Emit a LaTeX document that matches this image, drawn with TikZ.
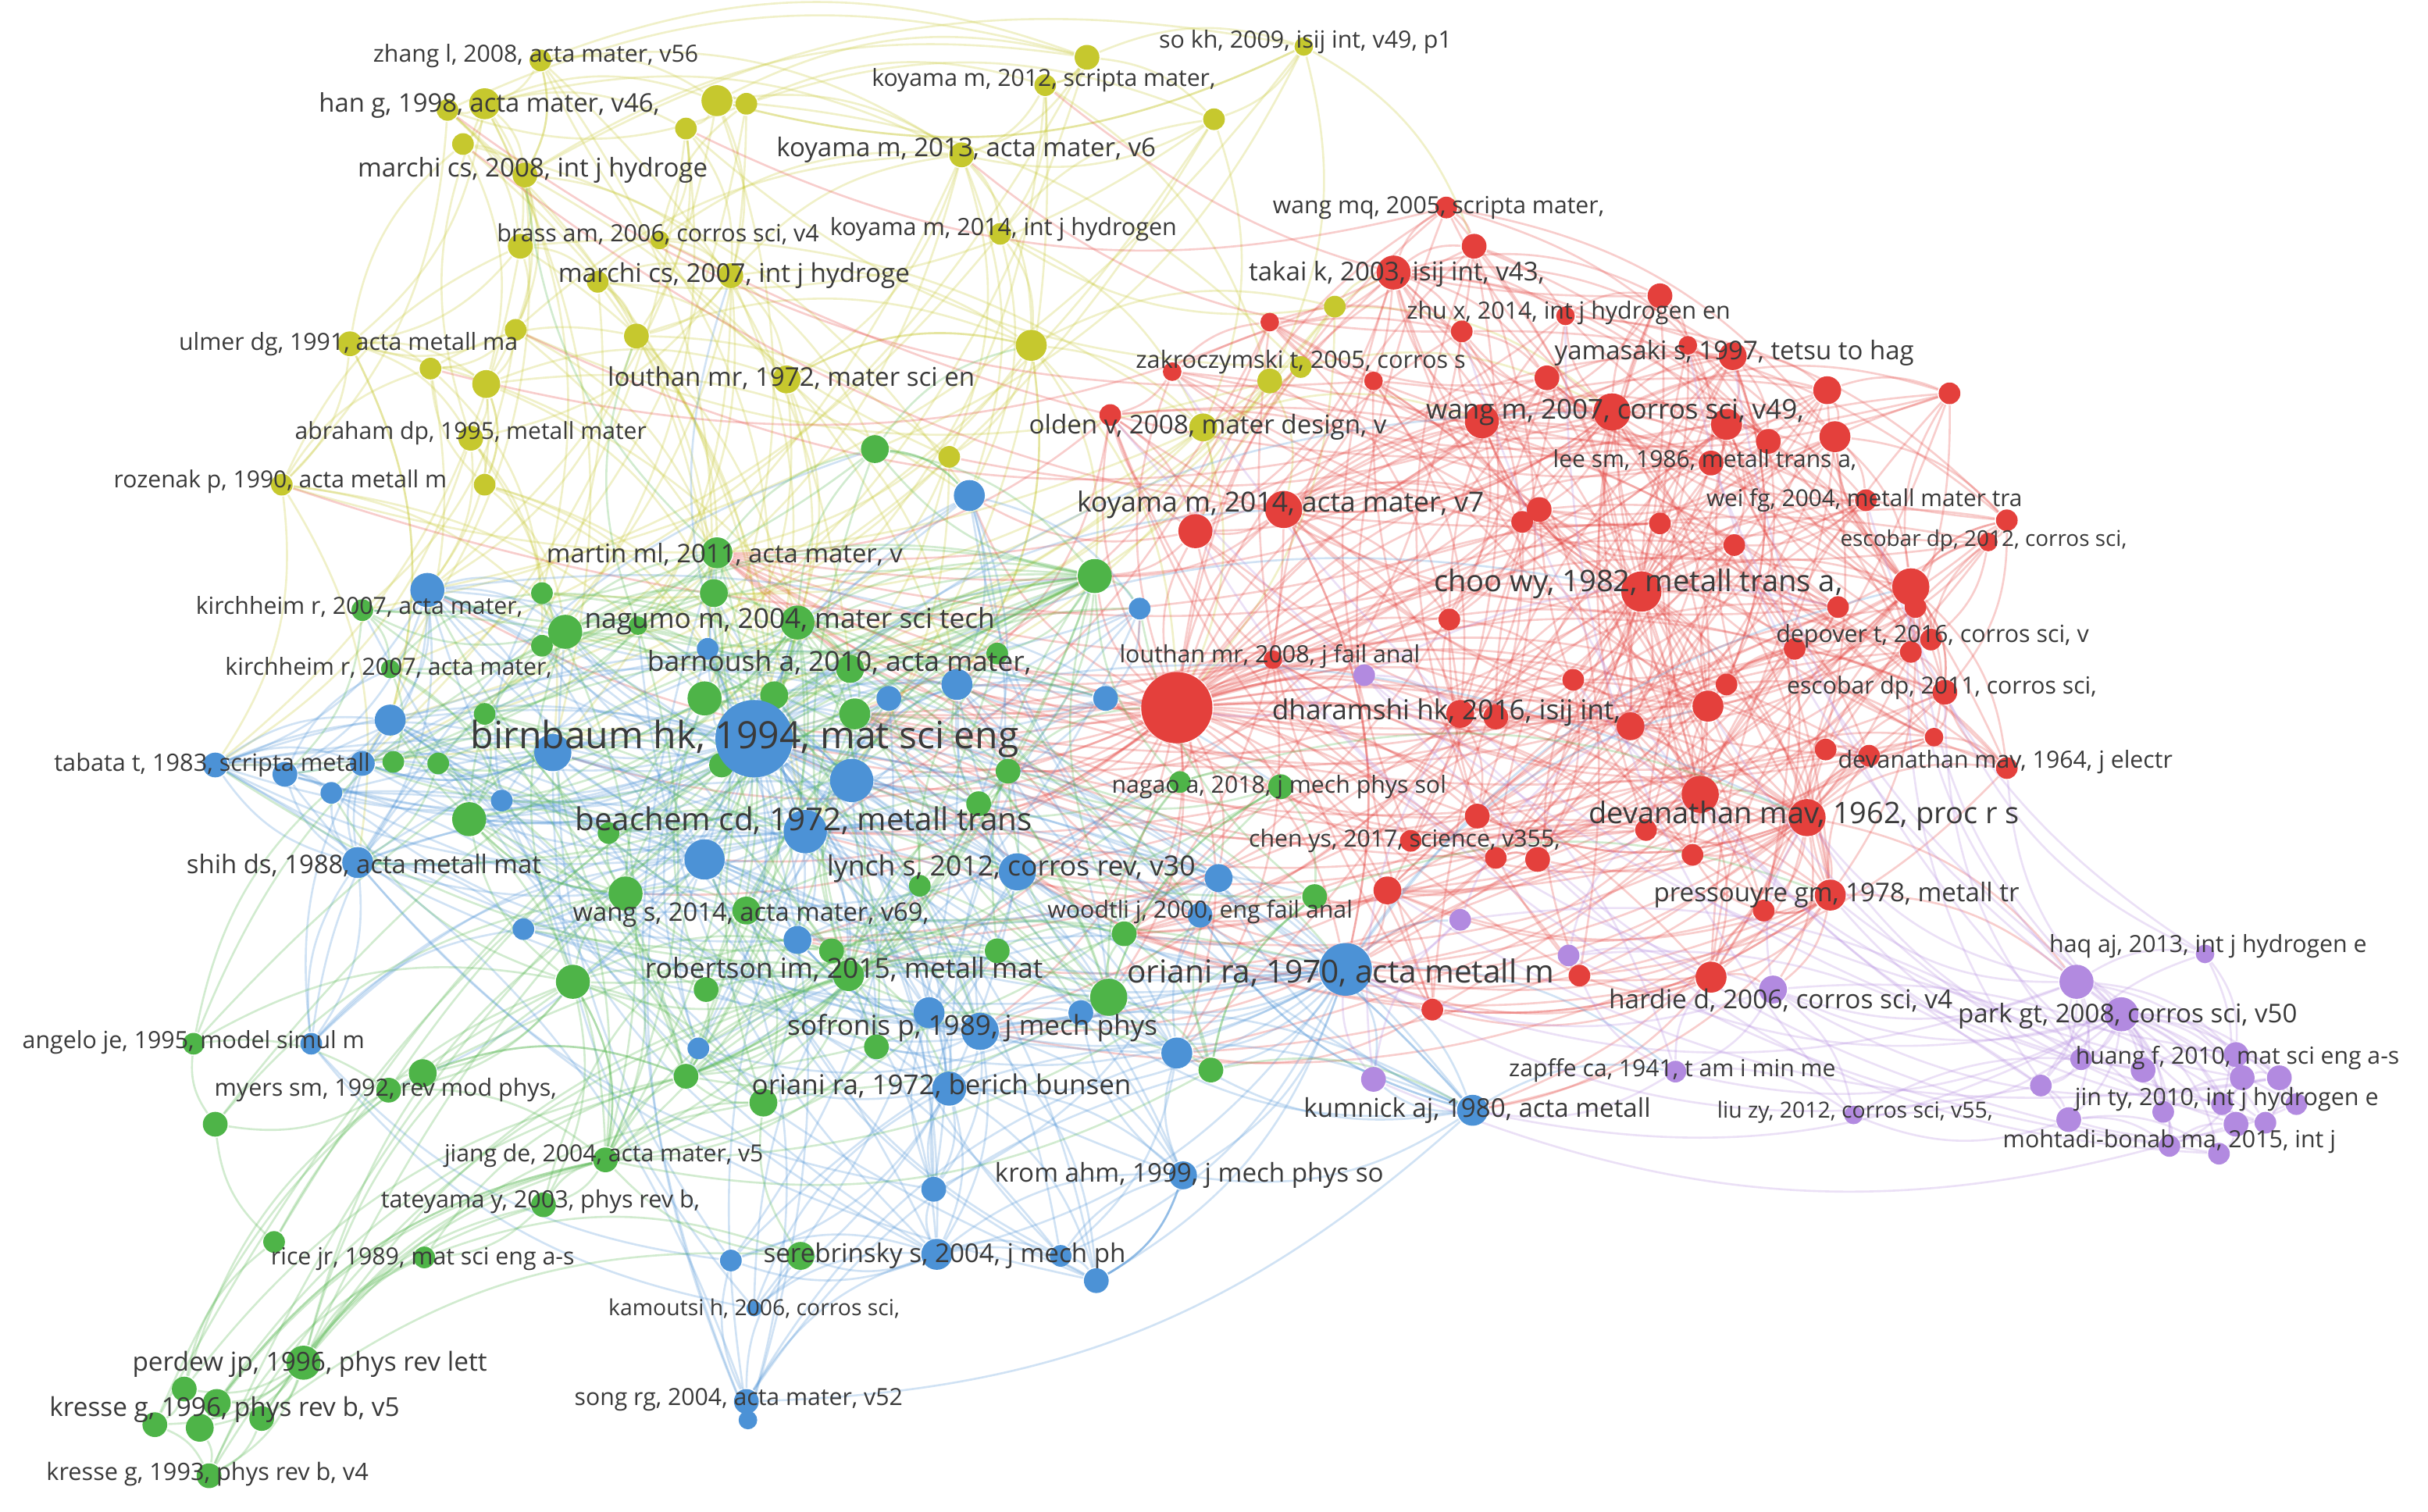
\documentclass[tikz,border=0pt]{standalone}
\usepackage{fontspec}
\setmainfont{Open Sans}
\usepackage{graphicx}
\definecolor{Rc}{RGB}{228,64,60}
\definecolor{Gc}{RGB}{78,180,72}
\definecolor{Bc}{RGB}{76,146,214}
\definecolor{Yc}{RGB}{198,200,46}
\definecolor{Pc}{RGB}{178,138,224}
\definecolor{Tc}{RGB}{58,58,58}
\pgfdeclarelayer{bg}
\pgfsetlayers{bg,main}
\setlength{\unitlength}{0.25pt}
\newcommand\lw[2]{\resizebox{#1\unitlength}{!}{#2}}
\begin{document}
\begin{tikzpicture}[x=0.25pt,y=-0.25pt,
  dot/.style={circle,inner sep=0pt,draw=none},
  lab/.style={inner sep=0pt,text=Tc,font=\fontsize{4}{4}\selectfont},
  edge/.style={draw opacity=0.26,line width=0.33pt,bend left=20},
  eR/.style={edge,draw=Rc},
  eG/.style={edge,draw=Gc},
  eB/.style={edge,draw=Bc},
  eY/.style={edge,draw=Yc},
  eP/.style={edge,draw=Pc}]
\useasboundingbox (0,0) rectangle (1568,976);
% ---------------- nodes ----------------
\foreach \nn/\xx/\yy/\rr in {Y1/349/39/7, Y2/313/67/10, Y3/289/71/7, Y4/463/65/10, Y5/482/67/7, Y6/443/83/7, Y7/299/93/7, Y8/339/113/8, Y9/336/159/8, Y10/426/155/6, Y11/386/182/7, Y12/472/178/8, Y13/333/213/7, Y14/411/217/8, Y15/226/222/8, Y16/278/238/7, Y17/314/248/9, Y18/508/245/9, Y19/304/283/8, Y20/182/313/7, Y21/313/313/7, Y22/702/37/8, Y23/675/55/7, Y24/842/30/6, Y25/784/77/7, Y26/621/100/8, Y27/646/151/7, Y28/666/223/10, Y29/840/237/7, Y30/820/246/8, Y31/777/276/9, Y32/862/198/7, Y33/613/295/7}
  \node[dot,fill=Yc,minimum size=\rr*0.5pt] (\nn) at (\xx,\yy) {};
\foreach \nn/\xx/\yy/\rr in {R0/760/457/23, R1/934/134/7, R2/952/159/8, R3/900/176/11, R4/820/208/6, R5/944/214/7, R6/1011/204/6, R7/887/246/6, R8/999/244/8, R9/957/272/11, R10/1041/266/12, R11/1072/191/8, R12/1119/230/9, R13/1090/223/6, R14/1180/252/9, R15/1259/254/7, R16/1115/274/10, R17/1142/285/8, R18/1185/282/10, R19/1105/299/8, R20/1205/323/7, R21/1072/338/7, R22/1296/336/7, R23/1284/350/6, R24/1120/352/7, R25/1060/382/13, R26/1234/379/12, R27/1237/392/7, R28/1187/392/7, R29/1159/419/7, R30/1234/421/7, R31/1247/413/7, R32/1115/442/7, R33/1103/456/10, R34/1256/447/8, R35/1053/469/9, R36/1249/476/6, R37/1179/484/7, R38/1207/488/7, R39/1296/496/7, R40/1098/513/12, R41/1167/528/12, R42/1063/536/7, R43/1093/552/7, R44/1182/578/10, R45/1139/588/7, R46/1105/631/10, R47/757/240/6, R48/717/268/7, R49/772/343/11, R50/829/329/12, R51/994/329/8, R52/983/337/7, R53/936/400/7, R54/822/426/6, R55/1016/439/7, R56/943/461/9, R57/966/463/8, R58/954/527/8, R59/911/543/7, R60/966/554/7, R61/993/555/8, R62/896/575/9, R63/1020/630/7, R64/925/652/7}
  \node[dot,fill=Rc,minimum size=\rr*0.5pt] (\nn) at (\xx,\yy) {};
\foreach \nn/\xx/\yy/\rr in {G1/463/357/10, G2/461/383/9, G3/365/408/11, G4/515/402/11, G5/412/404/6, G6/549/432/9, G7/644/422/7, G8/707/372/11, G9/455/451/11, G10/500/449/9, G11/552/461/10, G12/466/494/8, G13/651/498/8, G14/632/519/8, G15/393/538/7, G16/594/572/7, G17/404/577/11, G18/482/588/9, G19/537/614/8, G20/644/614/8, G21/726/603/8, G22/548/630/10, G23/370/634/11, G24/456/639/8, G25/716/644/12, G26/566/676/8, G27/443/695/8, G28/493/712/9, G29/782/691/8, G30/565/290/9, G31/234/394/7, G32/350/383/7, G33/350/417/7, G34/252/432/6, G35/313/461/7, G36/254/492/7, G37/283/493/7, G38/303/529/11, G39/762/505/7, G40/827/508/8, G41/849/579/8, G42/125/674/7, G43/273/693/9, G44/251/704/8, G45/139/726/8, G46/391/749/8, G47/351/778/8, G48/177/802/7, G49/274/812/7, G50/517/811/9, G51/196/880/11, G52/119/897/8, G53/140/906/9, G54/100/920/8, G55/129/922/9, G56/169/916/8, G57/135/953/8}
  \node[dot,fill=Gc,minimum size=\rr*0.5pt] (\nn) at (\xx,\yy) {};
\foreach \nn/\xx/\yy/\rr in {B1/626/320/10, B2/736/393/7, B3/276/381/11, B4/457/419/7, B5/618/442/10, B6/574/451/8, B7/714/451/8, B8/252/465/10, B9/357/486/12, B10/550/504/14, B11/139/494/8, B12/184/500/8, B13/234/493/8, B14/214/512/7, B15/324/517/7, B16/520/537/14, B17/455/555/13, B18/231/557/10, B19/657/563/12, B20/787/567/9, B21/338/600/7, B22/515/607/9, B23/775/591/8, B24/869/626/17, B25/600/654/10, B26/633/666/12, B27/698/654/8, B28/760/680/10, B29/451/677/7, B30/613/703/11, B31/201/674/7, B32/951/717/10, B33/603/768/8, B34/764/759/9, B35/605/810/10, B36/685/811/7, B37/708/827/8, B38/472/814/7, B39/487/845/5, B40/482/905/8, B41/483/917/6, B0/487/477/25}
  \node[dot,fill=Bc,minimum size=\rr*0.5pt] (\nn) at (\xx,\yy) {};
\foreach \nn/\xx/\yy/\rr in {P1/881/436/7, P2/943/594/7, P3/1013/617/7, P4/1145/639/9, P5/887/697/8, P6/1082/692/7, P7/1197/720/6, P8/1341/634/11, P9/1424/616/6, P10/1370/655/11, P11/1344/684/7, P12/1384/691/8, P13/1444/681/8, P14/1448/696/8, P15/1472/696/8, P16/1318/701/7, P17/1397/718/7, P18/1483/713/7, P19/1336/723/8, P20/1444/726/8, P21/1463/725/7, P22/1435/713/7, P23/1401/740/7, P24/1433/745/7}
  \node[dot,fill=Pc,minimum size=\rr*0.5pt] (\nn) at (\xx,\yy) {};
% ---------------- edges ----------------
\begin{pgfonlayer}{bg}
\fill[white] (0,0) rectangle (1568,976);
\foreach \a/\b in {Y1/Y2, Y1/Y4, Y1/Y8, Y1/Y22, Y1/Y26, Y2/Y3, Y2/Y8, Y2/Y9, Y2/Y4, Y2/Y6, Y2/Y7, Y3/Y9, Y4/Y5, Y4/Y6, Y4/Y12, Y4/Y22, Y4/Y26, Y5/Y23, Y5/Y25, Y6/Y12, Y6/Y14, Y7/Y8, Y8/Y9, Y8/Y12, Y8/Y13, Y8/Y17, Y9/Y13, Y9/Y11, Y10/Y12, Y10/Y26, Y11/Y14, Y11/Y18, Y12/Y14, Y12/Y18, Y12/Y26, Y12/Y28, Y13/Y15, Y13/Y16, Y13/Y17, Y14/Y28, Y15/Y16, Y15/Y17, Y15/Y20, Y15/Y19, Y16/Y17, Y17/Y19, Y17/Y21, Y17/Y18, Y17/B3, Y18/Y28, Y18/B0, Y19/B3, Y19/Y21, Y20/B11, Y20/Y16, Y21/B0, Y22/Y23, Y22/Y24, Y22/Y25, Y22/Y26, Y23/Y26, Y23/Y27, Y24/Y25, Y24/Y30, Y24/Y4, Y25/Y26, Y25/Y31, Y26/Y27, Y26/Y28, Y26/Y33, Y27/Y28, Y27/Y31, Y28/Y31, Y28/R0, Y28/Y33, Y29/Y30, Y29/R3, Y30/Y31, Y31/R0, Y31/R9, Y32/R3, Y32/R0, Y33/B0, Y33/G4, Y14/B0, Y18/G4, Y9/Y15, Y3/Y20, Y8/Y22, Y2/Y26, Y11/Y10, Y28/B5, Y31/R49, Y29/R10, Y26/B1, Y15/B8, Y20/B18, Y19/B9, Y21/G3, Y13/G1, Y12/B0, Y30/R50, Y28/G8, Y24/R2, Y32/R10}
  \draw[eY] (\a) to (\b);
\foreach \i in {1,...,33}{
  \pgfmathtruncatemacro\ja{mod(\i*7,33)+1}
  \pgfmathtruncatemacro\ka{{1,2,3,4,5,6,9,10,30,31,32,33,34,35}[mod(\i*5,14)]}
  \pgfmathtruncatemacro\ma{{0,1,3,4,5,8,9,11,13,16}[mod(\i*3,10)]}
  \ifnum\ja=\i\relax\else\draw[eY] (Y\i) to (Y\ja);\fi
  \draw[eY] (Y\i) to (G\ka);
  \draw[eY] (Y\i) to (B\ma);
}
\foreach \a/\b in {R0/R1, R0/R3, R0/R5, R0/R9, R0/R10, R0/R12, R0/R16, R0/R19, R0/R25, R0/R26, R0/R33, R0/R35, R0/R40, R0/R41, R0/R44, R0/R46, R0/R49, R0/R50, R0/R53, R0/R54, R0/R56, R0/R57, R0/R58, R0/R59, R0/R62, R0/R64, R0/R47, R0/R48, R0/R21, R0/R24, R0/R29, R0/R34, R0/R37, R0/R42, R0/R43, R0/R61, R0/B0, R0/B5, R0/B7, R0/B10, R0/B16, R0/B19, R0/B24, R0/B28, R0/B20, R0/G4, R0/G8, R0/G13, R0/G14, R0/G39, R0/G40, R0/G25, R0/B2, R0/G7, R0/B1, R0/G11, R0/B26, R0/G21, R0/P1, R0/R63, R0/R55, R0/B9, R0/B17, R0/G22, R0/G17, R0/B3, R0/G1}
  \draw[eR] (\a) to (\b);
\foreach \a/\b in {R25/R9, R25/R10, R25/R12, R25/R14, R25/R16, R25/R18, R25/R19, R25/R20, R25/R21, R25/R24, R25/R26, R25/R28, R25/R29, R25/R33, R25/R35, R25/R40, R25/R41, R25/R44, R25/R50, R25/R51, R25/R55, R25/R56, R25/R3, R25/R22, R25/R30, R25/R32, R25/R34, R25/B24, R25/B0, R25/R58, R25/R60, R41/R40, R41/R44, R41/R46, R41/R34, R41/R38, R41/R37, R41/R36, R41/R39, R41/R26, R41/R33, R41/R35, R41/R42, R41/R43, R41/R45, R41/R58, R41/R61, R41/B24, R41/R10, R41/R16, R41/P8, R41/P4, R41/B32, R40/R44, R40/R33, R40/R35, R40/R46, R40/R58, R40/R62, R40/R26, R40/B24, R40/R10, R40/B0, R10/R9, R10/R12, R10/R16, R10/R17, R10/R18, R10/R19, R10/R14, R10/R8, R10/R5, R10/R3, R10/R11, R10/R26, R10/R50, R10/R51, R10/R33, R10/R44, R10/R15}
  \draw[eR] (\a) to (\b);
\foreach \a/\b in {R26/R14, R26/R15, R26/R18, R26/R20, R26/R22, R26/R23, R26/R27, R26/R30, R26/R31, R26/R34, R26/R36, R26/R39, R26/R44, R26/R33, R9/R3, R9/R5, R9/R7, R9/R8, R9/R50, R9/R49, R9/R16, R9/R12, R9/R53, R3/R1, R3/R2, R3/R4, R3/R5, R3/R6, R3/R8, R3/R11, R3/R12, R3/R16, R3/R50, R3/R49, R50/R49, R50/R51, R50/R52, R50/R53, R50/R56, R50/R16, R50/R12, R50/B24, R50/G8, R50/R48, R44/R45, R44/R46, R44/R43, R44/R62, R44/B24, R44/B32, R44/P4, R44/P8, R44/R37, R44/R38, R46/R63, R46/R64, R46/P4, R46/B24, R46/R45, R46/B32, R56/R57, R56/R58, R56/R59, R56/R55, R56/R53, R56/R33, R56/R35, R33/R32, R33/R35, R33/R29, R33/R24, R33/R42, R33/R58}
  \draw[eR] (\a) to (\b);
\foreach \a/\b in {R12/R13, R12/R14, R12/R16, R12/R17, R14/R15, R14/R18, R16/R17, R16/R19, R18/R20, R18/R22, R19/R21, R22/R23, R23/R31, R27/R30, R28/R29, R30/R31, R34/R36, R36/R39, R37/R38, R38/R39, R42/R43, R59/R60, R60/R61, R61/R62, R62/B24, R62/R64, R47/R48, R47/R4, R49/R48, R49/B1, R49/G8, R1/R2, R2/R6, R6/R11, R11/R13, R7/R4, R52/R51, R55/R35, R57/R40, R58/R41, R59/G40, R62/G41, R5/R8, R16/R24, R21/R24, R18/R26, R28/R24, R30/R34, R35/R40, R32/R29, R39/R34, R45/R43, R64/B28, R63/P3, R53/R55, R54/R49}
  \draw[eR] (\a) to (\b);
\foreach \i in {1,...,64}{
  \pgfmathtruncatemacro\ja{mod(\i*17,64)+1}
  \pgfmathtruncatemacro\ka{mod(\i*23+11,64)+1}
  \pgfmathtruncatemacro\ma{mod(\i*13+3,64)+1}
  \ifnum\ja=\i\relax\else\draw[eR] (R\i) to (R\ja);\fi
  \ifnum\ka=\i\relax\else\draw[eR] (R\i) to (R\ka);\fi
  \ifnum\ma=\i\relax\else\draw[eR] (R\i) to (R\ma);\fi
}
\foreach \i in {2,4,...,64}{
  \pgfmathtruncatemacro\ja{{1,2,4,6,7,8,10,11,13,14,16,18,19,20,21,22,25,26,39,40,41}[mod(\i*7,21)]}
  \pgfmathtruncatemacro\ka{{5,6,7,10,16,17,19,20,22,23,24,25,26,27,28,30}[mod(\i*5,16)]}
  \draw[eR] (R\i) to (G\ja);
  \draw[eR] (R\i) to (B\ka);
}
\foreach \i in {1,3,...,21}{
  \pgfmathtruncatemacro\ja{mod(\i*5,33)+1}
  \draw[eR] (R\i) to (Y\ja);
}
\foreach \a/\b in {B0/B3, B0/B5, B0/B6, B0/B8, B0/B9, B0/B10, B0/B11, B0/B12, B0/B13, B0/B15, B0/B16, B0/B17, B0/B18, B0/B19, B0/B20, B0/B21, B0/B22, B0/B24, B0/B25, B0/B26, B0/B28, B0/B30, B0/B34, B0/B35, B0/B32, B0/B1, B0/B4, B0/B7, B0/G1, B0/G3, B0/G4, B0/G6, B0/G9, B0/G10, B0/G11, B0/G12, B0/G17, B0/G18, B0/G22, B0/G23, B0/G25, B0/G38, B0/G35, B0/G14, B0/G13, B0/G20, B0/G26, B0/G28, B0/G2, B0/G32, B0/G33, B0/B14, B0/B29, B0/B36, B0/B37, B0/B33, B0/Y12, B0/G44, B0/R25, B0/R10, B0/R41, B0/R50, B0/G8}
  \draw[eB] (\a) to (\b);
\foreach \a/\b in {B16/B3, B16/B8, B16/B9, B16/B10, B16/B11, B16/B17, B16/B18, B16/B19, B16/B24, B16/B26, B16/B30, B16/B5, B16/G4, B16/G18, B16/G22, B16/G17, B16/B22, B16/B13, B16/B28, B24/B26, B24/B30, B24/B32, B24/B34, B24/B35, B24/B28, B24/B27, B24/B20, B24/B19, B24/B10, B24/B17, B24/B23, B24/B37, B24/B36, B24/G25, B24/G29, B24/G21, B24/P2, B24/P5, B24/P6, B24/B9, B24/B18, B24/R33, B24/R26, B26/B30, B26/B34, B26/B35, B26/B25, B26/B27, B26/B28, B26/B33, B26/B19, B26/B17, B26/B22, B26/B32, B26/B37, B26/G22, B26/G26, B26/G25, B30/B33, B30/B35, B30/B34, B30/B37, B30/B32, B30/B25, B30/B29, B30/B38, B35/B36, B35/B37, B35/B33, B35/B34, B35/B38, B35/G50}
  \draw[eB] (\a) to (\b);
\foreach \a/\b in {B3/B8, B3/B9, B3/B11, B3/B13, B3/B18, B3/B10, B3/B17, B3/G3, B3/G31, B3/G32, B3/B12, B18/B8, B18/B9, B18/B11, B18/B12, B18/B13, B18/B14, B18/B17, B18/B21, B18/B31, B11/B12, B11/B13, B11/B8, B11/B9, B11/B14, B11/B17, B9/B8, B9/B10, B9/B13, B9/B15, B9/B17, B17/B10, B17/B19, B17/B22, B17/B25, B17/B21, B10/B5, B10/B6, B10/B19, B10/B20, B19/B20, B19/B25, B19/B28, B19/B5, B19/B23, B32/B34, B32/B28, B32/B20, B32/B27, B32/P5, B32/P6, B34/B37, B34/B28, B34/B27, B40/B41, B40/B35, B39/B35, B38/B35, B31/B18, B31/B8, B1/B2, B1/B5, B2/B7, B7/B5, B40/G50, B39/B30, B31/B17, B12/B14, B13/B15, B8/B12, B21/B17, B29/B17, B33/B25, B23/B20, B36/B37, B32/B23, B28/B20}
  \draw[eB] (\a) to (\b);
\foreach \i in {1,...,41}{
  \pgfmathtruncatemacro\ja{mod(\i*13,41)+1}
  \pgfmathtruncatemacro\ka{mod(\i*7+3,41)+1}
  \pgfmathtruncatemacro\ma{mod(\i*19+5,41)+1}
  \draw[eB] (B\i) to (G\ja);
  \ifnum\ka=\i\relax\else\draw[eB] (B\i) to (B\ka);\fi
  \ifnum\ma=\i\relax\else\draw[eB] (B\i) to (B\ma);\fi
}
\foreach \a/\b in {G4/G1, G4/G2, G4/G3, G4/G6, G4/G9, G4/G10, G4/G11, G4/G12, G4/G17, G4/G18, G4/G22, G4/G23, G4/G25, G4/G8, G4/G7, G4/G13, G4/G38, G4/G30, G4/B5, G4/B10, G22/G18, G22/G19, G22/G20, G22/G25, G22/G26, G22/G23, G22/G17, G22/G11, G22/G14, G22/G16, G22/G28, G22/G21, G22/G1, G22/G6, G25/G21, G25/G29, G25/G20, G25/G13, G25/G14, G25/G41, G25/G39, G25/G40, G23/G17, G23/G24, G23/G27, G23/G28, G23/G43, G23/G44, G23/G46, G23/G47, G23/G38, G23/G3, G17/G18, G17/G38, G17/G15, G17/G9, G17/G12}
  \draw[eG] (\a) to (\b);
\foreach \a/\b in {G51/G52, G51/G53, G51/G54, G51/G55, G51/G56, G51/G57, G51/G46, G51/G47, G51/G49, G51/G23, G51/G17, G51/G28, G51/G22, G53/G55, G52/G54, G55/G57, G56/G57, G54/G57, G53/G56, G56/G47, G55/G46, G57/G49, G52/G48, G48/G45, G44/G43, G44/G45, G43/G27, G45/G42, G42/G44, G42/G23, G46/G47, G46/G28, G47/G49, G49/G50, G50/G28, G46/G22, G47/G18, G57/G22, G54/G23, G52/G43, G56/G50, G53/G46, G48/G23, G42/G3, G45/G17}
  \draw[eG] (\a) to (\b);
\foreach \a/\b in {G3/G32, G3/G33, G3/G31, G3/G34, G3/G9, G3/G2, G3/G35, G3/G5, G1/G2, G1/G5, G1/G30, G2/G9, G6/G10, G6/G11, G6/G7, G8/G7, G8/G13, G8/G30, G9/G10, G10/G11, G11/G13, G12/G15, G13/G14, G14/G16, G16/G19, G18/G19, G19/G20, G20/G21, G21/G29, G24/G27, G26/G28, G29/G41, G36/G37, G37/G38, G35/G38, G34/G36, G31/G34, G39/G40, G40/G41, G38/G15, G38/B9, G36/B13, G37/B9, G30/B1, G8/B2, G13/R0, G39/R41, G41/R44, G29/B32, G1/Y8, G30/Y28, G5/Y14, G2/B3}
  \draw[eG] (\a) to (\b);
\foreach \i in {1,...,57}{
  \pgfmathtruncatemacro\ja{mod(\i*11,30)+1}
  \pgfmathtruncatemacro\ka{mod(\i*19+7,57)+1}
  \pgfmathtruncatemacro\ma{mod(\i*31+2,41)+1}
  \ifnum\i<45\relax\draw[eG] (G\i) to (B\ja);\fi
  \ifnum\ka=\i\relax\else\draw[eG] (G\i) to (G\ka);\fi
  \ifnum\i<42\relax\ifnum\ma=\i\relax\else\draw[eG] (G\i) to (G\ma);\fi\fi
}
\foreach \a/\b in {P8/P9, P8/P10, P8/P11, P8/P12, P8/P13, P8/P16, P8/P19, P8/P4, P8/R44, P8/R41, P8/B24, P8/P14, P10/P11, P10/P12, P10/P13, P10/P14, P10/P15, P10/P16, P10/P17, P10/P18, P10/P19, P10/P20, P10/P21, P10/P22, P10/P23, P10/P24, P10/P4, P10/P7, P10/P6, P10/B32, P12/P17, P12/P23, P13/P14, P13/P15, P14/P15, P14/P20, P15/P18, P15/P21, P17/P22, P17/P23, P20/P24, P21/P18, P22/P20, P11/P16, P16/P19, P19/P23, P4/P6, P4/P7, P4/R41, P4/B24, P6/B32, P6/R46, P5/B24, P2/B24, P3/R46, P1/R0, P1/R56, P9/P13, P8/R26, P10/R39, P9/R34, P19/P7, P16/B24, P12/R44}
  \draw[eP] (\a) to (\b);
\foreach \i in {1,...,24}{
  \pgfmathtruncatemacro\ja{mod(\i*5,24)+1}
  \pgfmathtruncatemacro\ka{mod(\i*7+20,64)+1}
  \ifnum\ja=\i\relax\else\draw[eP] (P\i) to (P\ja);\fi
  \draw[eP] (P\i) to (R\ka);
}
\end{pgfonlayer}
% ---------------- labels ----------------
\node[lab] (t1) at (346,36) {\lw{210}{zhang l, 2008, acta mater, v56}};
\node[lab] (t2) at (316,68) {\lw{220}{han g, 1998, acta mater, v46,}};
\node[lab] (t3) at (344,110) {\lw{226}{marchi cs, 2008, int j hydroge}};
\node[lab] (t4) at (425,151) {\lw{208}{brass am, 2006, corros sci, v4}};
\node[lab] (t5) at (474,178) {\lw{227}{marchi cs, 2007, int j hydroge}};
\node[lab] (t6) at (225,222) {\lw{219}{ulmer dg, 1991, acta metall ma}};
\node[lab] (t7) at (511,244) {\lw{237}{louthan mr, 1972, mater sci en}};
\node[lab] (t8) at (304,280) {\lw{227}{abraham dp, 1995, metall mater}};
\node[lab] (t9) at (181,311) {\lw{215}{rozenak p, 1990, acta metall m}};
\node[lab] (t10) at (843,27) {\lw{189}{so kh, 2009, isij int, v49, p1}};
\node[lab] (t11) at (674,52) {\lw{222}{koyama m, 2012, scripta mater,}};
\node[lab] (t12) at (624,97) {\lw{245}{koyama m, 2013, acta mater, v6}};
\node[lab] (t13) at (648,148) {\lw{224}{koyama m, 2014, int j hydrogen}};
\node[lab] (t14) at (840,234) {\lw{213}{zakroczymski t, 2005, corros s}};
\node[lab] (t15) at (780,276) {\lw{231}{olden v, 2008, mater design, v}};
\node[lab] (t16) at (929,134) {\lw{214}{wang mq, 2005, scripta mater,}};
\node[lab] (t17) at (902,177) {\lw{191}{takai k, 2003, isij int, v43,}};
\node[lab] (t18) at (1013,202) {\lw{209}{zhu x, 2014, int j hydrogen en}};
\node[lab] (t19) at (1120,228) {\lw{232}{yamasaki s, 1997, tetsu to hag}};
\node[lab] (t20) at (1043,266) {\lw{244}{wang m, 2007, corros sci, v49,}};
\node[lab] (t21) at (1101,297) {\lw{196}{lee sm, 1986, metall trans a,}};
\node[lab] (t22) at (1204,323) {\lw{204}{wei fg, 2004, metall mater tra}};
\node[lab] (t23) at (827,326) {\lw{263}{koyama m, 2014, acta mater, v7}};
\node[lab] (t24) at (1281,349) {\lw{185}{escobar dp, 2012, corros sci,}};
\node[lab] (t25) at (1058,377) {\lw{264}{choo wy, 1982, metall trans a,}};
\node[lab] (t26) at (1248,411) {\lw{202}{depover t, 2016, corros sci, v}};
\node[lab] (t27) at (1254,444) {\lw{200}{escobar dp, 2011, corros sci,}};
\node[lab] (t28) at (1295,492) {\lw{216}{devanathan mav, 1964, j electr}};
\node[lab] (t29) at (1165,527) {\lw{278}{devanathan mav, 1962, proc r s}};
\node[lab] (t30) at (1186,578) {\lw{236}{pressouyre gm, 1978, metall tr}};
\node[lab] (t31) at (820,424) {\lw{194}{louthan mr, 2008, j fail anal}};
\node[lab] (t32) at (934,460) {\lw{225}{dharamshi hk, 2016, isij int,}};
\node[lab] (t33) at (907,543) {\lw{201}{chen ys, 2017, science, v355,}};
\node[lab] (t34) at (468,358) {\lw{230}{martin ml, 2011, acta mater, v}};
\node[lab] (t35) at (232,392) {\lw{211}{kirchheim r, 2007, acta mater,}};
\node[lab] (t36) at (510,401) {\lw{265}{nagumo m, 2004, mater sci tech}};
\node[lab] (t37) at (251,431) {\lw{211}{kirchheim r, 2007, acta mater,}};
\node[lab] (t38) at (542,428) {\lw{248}{barnoush a, 2010, acta mater,}};
\node[lab] (t39) at (481,477) {\lw{354}{birnbaum hk, 1994, mat sci eng}};
\node[lab] (t40) at (137,494) {\lw{204}{tabata t, 1983, scripta metall}};
\node[lab] (t41) at (519,530) {\lw{295}{beachem cd, 1972, metall trans}};
\node[lab] (t42) at (235,559) {\lw{229}{shih ds, 1988, acta metall mat}};
\node[lab] (t43) at (653,561) {\lw{238}{lynch s, 2012, corros rev, v30}};
\node[lab] (t44) at (485,591) {\lw{230}{wang s, 2014, acta mater, v69,}};
\node[lab] (t45) at (775,589) {\lw{197}{woodtli j, 2000, eng fail anal}};
\node[lab] (t46) at (545,626) {\lw{257}{robertson im, 2015, metall mat}};
\node[lab] (t47) at (866,628) {\lw{276}{oriani ra, 1970, acta metall m}};
\node[lab] (t48) at (628,664) {\lw{239}{sofronis p, 1989, j mech phys}};
\node[lab] (t49) at (125,673) {\lw{221}{angelo je, 1995, model simul m}};
\node[lab] (t50) at (608,701) {\lw{245}{oriani ra, 1972, berich bunsen}};
\node[lab] (t51) at (249,704) {\lw{221}{myers sm, 1992, rev mod phys,}};
\node[lab] (t52) at (954,717) {\lw{224}{kumnick aj, 1980, acta metall}};
\node[lab] (t53) at (390,746) {\lw{206}{jiang de, 2004, acta mater, v5}};
\node[lab] (t54) at (768,759) {\lw{251}{krom ahm, 1999, j mech phys so}};
\node[lab] (t55) at (349,776) {\lw{206}{tateyama y, 2003, phys rev b,}};
\node[lab] (t56) at (610,811) {\lw{234}{serebrinsky s, 2004, j mech ph}};
\node[lab] (t57) at (273,813) {\lw{196}{rice jr, 1989, mat sci eng a-s}};
\node[lab] (t58) at (826,508) {\lw{216}{nagao a, 2018, j mech phys sol}};
\node[lab] (t59) at (487,845) {\lw{188}{kamoutsi h, 2006, corros sci,}};
\node[lab] (t60) at (200,881) {\lw{229}{perdew jp, 1996, phys rev lett}};
\node[lab] (t61) at (477,904) {\lw{212}{song rg, 2004, acta mater, v52}};
\node[lab] (t62) at (145,910) {\lw{226}{kresse g, 1996, phys rev b, v5}};
\node[lab] (t63) at (134,952) {\lw{208}{kresse g, 1993, phys rev b, v4}};
\node[lab] (t64) at (1150,646) {\lw{222}{hardie d, 2006, corros sci, v4}};
\node[lab] (t65) at (1426,611) {\lw{205}{haq aj, 2013, int j hydrogen e}};
\node[lab] (t66) at (1374,656) {\lw{219}{park gt, 2008, corros sci, v50}};
\node[lab] (t67) at (1445,683) {\lw{209}{huang f, 2010, mat sci eng a-s}};
\node[lab] (t68) at (1080,691) {\lw{211}{zapffe ca, 1941, t am i min me}};
\node[lab] (t69) at (1438,710) {\lw{196}{jin ty, 2010, int j hydrogen e}};
\node[lab] (t70) at (1198,718) {\lw{178}{liu zy, 2012, corros sci, v55,}};
\node[lab] (t71) at (1401,737) {\lw{215}{mohtadi-bonab ma, 2015, int j}};
\end{tikzpicture}
\end{document}
